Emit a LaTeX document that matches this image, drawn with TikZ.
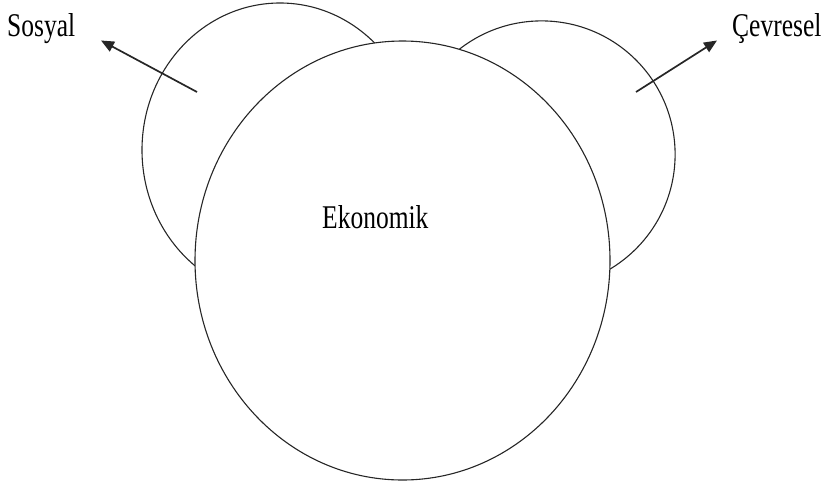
\documentclass[tikz,border=0pt]{standalone}
\usepackage{fontspec}
\setmainfont{Liberation Serif}
\usetikzlibrary{arrows.meta}
\tikzset{
  ring/.style={line width=1.1pt, draw=black!85},
  pointer/.style={line width=1.7pt, draw=black!85, -{Triangle[length=13pt,width=11pt]}},
  label/.style={anchor=base west, inner sep=0pt, font=\fontsize{25.5}{30}\selectfont}
}
\newcommand{\tallword}[1]{\scalebox{1}[1.3]{#1}}
\begin{document}
\begin{tikzpicture}[x=1pt,y=-1pt]
\useasboundingbox (0,0) rectangle (826,490);
% side rings
\draw[ring] (280,150) ellipse [x radius=138, y radius=147];
\draw[ring] (541.6,154.4) circle [radius=133.5];
% central ring
\draw[ring, fill=white] (402.5,260.5) ellipse [x radius=207.5, y radius=219.5];
% labels
\node[label] (sosyal) at (7,36) {\tallword{Sosyal}};
\node[label] (cevresel) at (732,36) {\tallword{Çevresel}};
\node[label] (ekonomik) at (322,228) {\tallword{Ekonomik}};
% arrows
\coordinate (s0) at (197,92);
\coordinate (s1) at (101,40.5);
\coordinate (c0) at (636,92);
\coordinate (c1) at (717,40.5);
\draw[pointer] (s0) -- (s1);
\draw[pointer] (c0) -- (c1);
\end{tikzpicture}
\end{document}
